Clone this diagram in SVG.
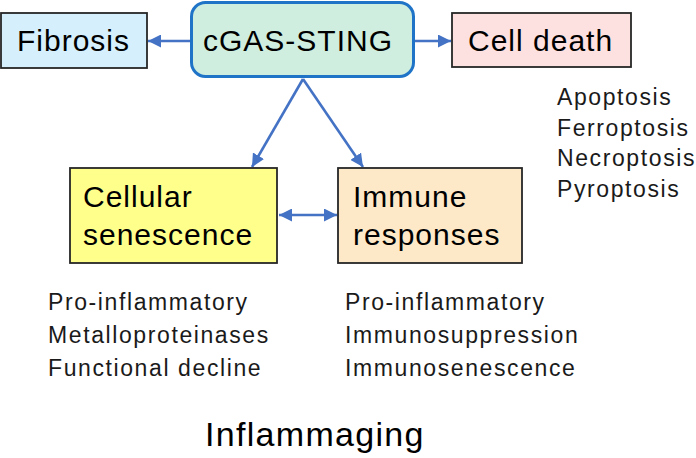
<svg xmlns="http://www.w3.org/2000/svg" width="696" height="458" viewBox="0 0 696 458">
<defs>
<marker id="ah" viewBox="0 0 10 10" refX="10" refY="5" markerWidth="5" markerHeight="5" orient="auto-start-reverse" markerUnits="strokeWidth">
<path d="M0,0 L10,5 L0,10 z" fill="#4472c4"/>
</marker>
<style>
.box{stroke:#262626;stroke-width:1.8}
.lbl{font-family:"Liberation Sans",Arial,sans-serif;font-size:30px;fill:#000;letter-spacing:1px}
.lst{font-family:"Liberation Sans",Arial,sans-serif;font-size:23px;fill:#1a1a1a;letter-spacing:1.6px}
.con{stroke:#4472c4;stroke-width:2.6;fill:none;marker-end:url(#ah)}
</style>
</defs>
<rect width="696" height="458" fill="#fff"/>
<g id="connectors">
<line class="con" x1="190" y1="41" x2="148" y2="41"/>
<line class="con" x1="414" y1="41" x2="451" y2="41"/>
<line class="con" x1="303" y1="79" x2="252" y2="167"/>
<line class="con" x1="303" y1="79" x2="363" y2="167"/>
<line class="con" x1="279" y1="215" x2="337" y2="215" marker-start="url(#ah)"/>
</g>
<g id="fibrosis">
<rect class="box" x="1" y="13" width="146" height="55" fill="#d5effc"/>
<text class="lbl" x="17" y="51" letter-spacing="0.7">Fibrosis</text>
</g>
<g id="cgas-sting">
<rect x="191.5" y="2.5" width="222" height="74" rx="14" fill="#cfeedf" stroke="#1f74c8" stroke-width="3"/>
<text class="lbl" x="203" y="51" letter-spacing="1.3">cGAS-STING</text>
</g>
<g id="cell-death">
<rect class="box" x="452" y="13" width="179" height="54" fill="#fde1e1"/>
<text class="lbl" x="468" y="51">Cell death</text>
</g>
<g id="cell-death-list">
<text class="lst" x="557" y="105">Apoptosis</text>
<text class="lst" x="557" y="136">Ferroptosis</text>
<text class="lst" x="557" y="166">Necroptosis</text>
<text class="lst" x="557" y="197">Pyroptosis</text>
</g>
<g id="cellular-senescence">
<rect class="box" x="70" y="168" width="207" height="95" fill="#ffff8c"/>
<text class="lbl" x="83" y="207" letter-spacing="1.3">Cellular</text>
<text class="lbl" x="83" y="245" letter-spacing="1.3">senescence</text>
</g>
<g id="immune-responses">
<rect class="box" x="338" y="168" width="184" height="95" fill="#fde9c8"/>
<text class="lbl" x="353" y="207" letter-spacing="1.3">Immune</text>
<text class="lbl" x="353" y="245" letter-spacing="1.3">responses</text>
</g>
<g id="senescence-list">
<text class="lst" x="48" y="310">Pro-inflammatory</text>
<text class="lst" x="48" y="343">Metalloproteinases</text>
<text class="lst" x="48" y="376">Functional decline</text>
</g>
<g id="immune-list">
<text class="lst" x="345" y="310">Pro-inflammatory</text>
<text class="lst" x="345" y="343">Immunosuppression</text>
<text class="lst" x="345" y="376">Immunosenescence</text>
</g>
<g id="inflammaging">
<text x="205" y="446" font-family="Liberation Sans, Arial, sans-serif" font-size="34" letter-spacing="1.3" fill="#000">Inflammaging</text>
</g>
</svg>
